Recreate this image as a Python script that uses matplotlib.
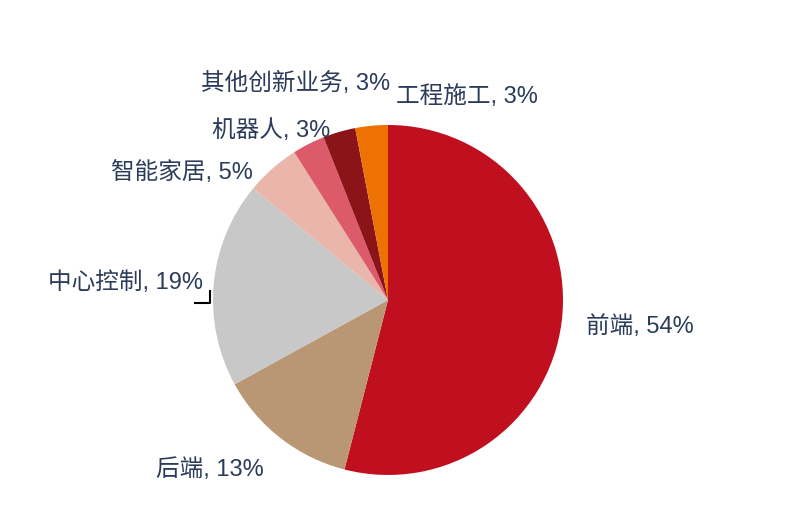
import matplotlib
matplotlib.use('Agg')
import matplotlib.pyplot as plt

plt.rcParams['font.family'] = ['Liberation Sans', 'Noto Sans CJK SC', 'DejaVu Sans']

labels = ['前端', '后端', '中心控制', '智能家居', '机器人', '其他创新业务', '工程施工']
values = [54, 13, 19, 5, 3, 3, 3]
colors = ['#C00F1E', '#B99774', '#C8C8C8', '#EAB6AC', '#DC5A6A', '#8B1418', '#EE7203']

# label centres in data units (pie radius = 1)
label_pos = [(1.44, -0.15), (-1.02, -0.97), (-1.50, 0.10), (-1.18, 0.73),
             (-0.67, 0.97), (-0.53, 1.24), (0.45, 1.16)]

fig = plt.figure(figsize=(8.02, 5.13), dpi=100)
ax = fig.add_axes([0.2656, 0.0741, 0.4364, 0.6823])
ax.pie(values, colors=colors, startangle=90, counterclock=False,
       radius=1, wedgeprops=dict(linewidth=0))
ax.set_xlim(-1, 1)
ax.set_ylim(-1, 1)
ax.set_aspect('equal')
ax.axis('off')

txt_color = '#2B3B5A'
for lab, v, (x, y) in zip(labels, values, label_pos):
    ax.text(x, y, f'{lab}, {v}%', ha='center', va='center', fontsize=17,
            color=txt_color, clip_on=False)

# leader line for 中心控制
ax.plot([-1.105, -1.02, -1.02], [-0.02, -0.02, 0.05], color='black',
        linewidth=1.5, clip_on=False)

fig.savefig('out.png', dpi=100)
